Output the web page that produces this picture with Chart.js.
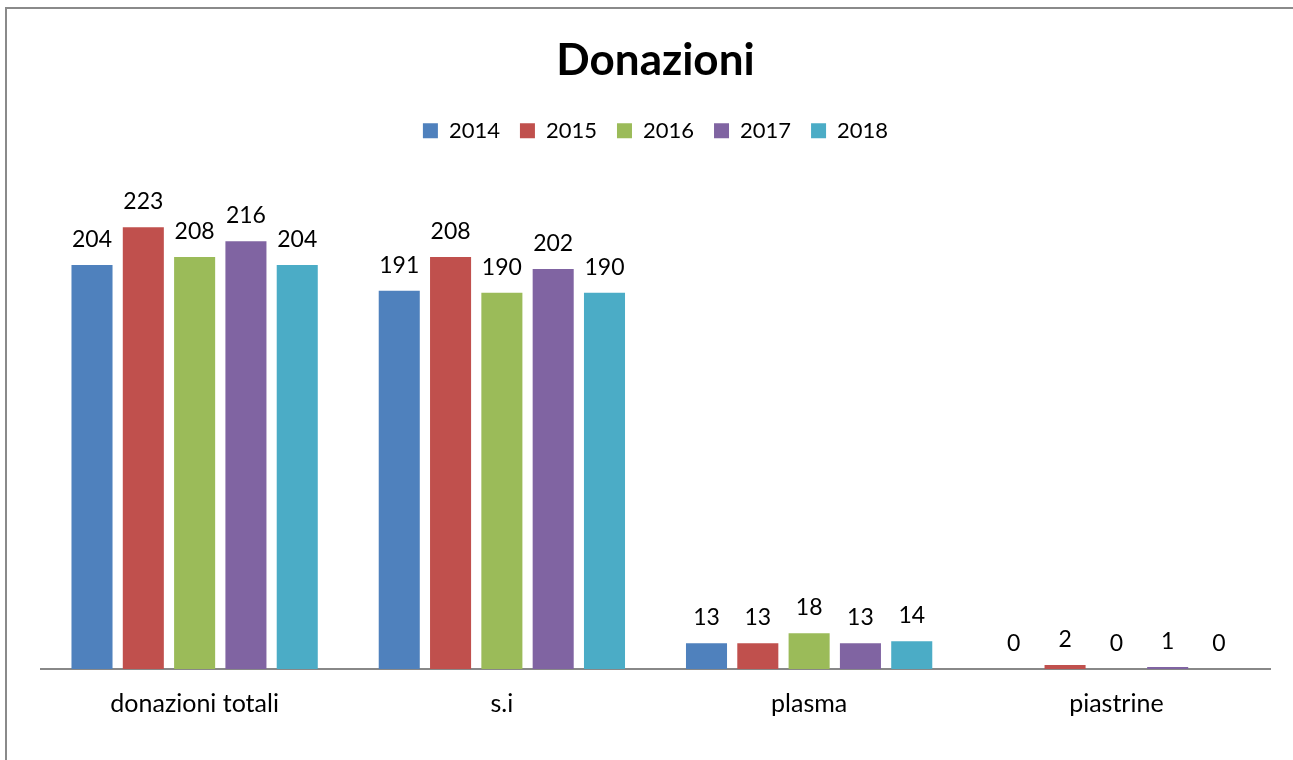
<!DOCTYPE html>
<html>
<head>
<meta charset="utf-8">
<script src="https://cdn.jsdelivr.net/npm/chart.js@4"></script>
<style>
  html, body { margin: 0; background: #fff; overflow: hidden; }
  .frame { position: absolute; left: 5px; top: 7px; width: 1400px; height: 900px;
           border-left: 2px solid #8a8a8a; border-top: 2px solid #8a8a8a; }
  .wrap { position: absolute; left: 0; top: 0; width: 1293px; height: 760px; }
</style>
</head>
<body>
<div class="frame"></div>
<div class="wrap"><canvas id="donChart" width="1293" height="760"></canvas></div>
<script>
const categories = ['donazioni totali', 's.i', 'plasma', 'piastrine'];
const years = ['2014', '2015', '2016', '2017', '2018'];
const v2014 = [204, 191, 13, 0];
const v2015 = [223, 208, 13, 2];
const v2016 = [208, 190, 18, 0];
const v2017 = [216, 202, 13, 1];
const v2018 = [204, 190, 14, 0];
const colors = ['#4F81BD', '#C0504D', '#9BBB59', '#8064A2', '#4BACC6'];

const FONT = 'Lato, "Open Sans", sans-serif';

// values over the bars
const valueLabels = {
    id: 'valueLabels',
    afterDatasetsDraw(chart) {
        const c = chart.ctx;
        c.save();
        c.font = '23px ' + FONT;
        c.fillStyle = '#000';
        c.textAlign = 'center';
        c.textBaseline = 'alphabetic';
        chart.data.datasets.forEach((ds, i) => {
            chart.getDatasetMeta(i).data.forEach((bar, j) => {
                c.fillText(String(ds.data[j]), bar.x, bar.y - 18);
            });
        });
        c.restore();
    }
};

// extra room between legend and bars
const legendSpace = {
    id: 'legendSpace',
    beforeInit(chart) {
        const fit = chart.legend.fit;
        chart.legend.fit = function () {
            fit.call(this);
            this.height += 22;
        };
    }
};

const series = [v2014, v2015, v2016, v2017, v2018];

new Chart(document.getElementById('donChart').getContext('2d'), {
    type: 'bar',
    data: {
        labels: categories,
        datasets: series.map((d, i) => ({
            label: years[i],
            data: d,
            backgroundColor: colors[i],
            borderWidth: 0,
            categoryPercentage: 0.835,
            barPercentage: 0.8
        }))
    },
    options: {
        responsive: false,
        animation: false,
        layout: { padding: { left: 41, right: 23, top: 0, bottom: 21 } },
        plugins: {
            title: {
                display: true,
                text: 'Donazioni',
                color: '#000',
                font: { family: FONT, size: 44, weight: 'bold' },
                padding: { top: 34, bottom: 13 }
            },
            legend: {
                display: true,
                position: 'top',
                labels: {
                    boxWidth: 15,
                    boxHeight: 15,
                    padding: 20,
                    color: '#000',
                    font: { family: FONT, size: 22 }
                }
            },
            tooltip: { enabled: false }
        },
        scales: {
            x: {
                grid: { display: false, drawTicks: false },
                border: { color: '#888', width: 2 },
                ticks: { color: '#000', padding: 20, font: { family: FONT, size: 25 } }
            },
            y: {
                display: false,
                min: 0,
                max: 250
            }
        }
    },
    plugins: [valueLabels, legendSpace]
});
</script>
</body>
</html>
